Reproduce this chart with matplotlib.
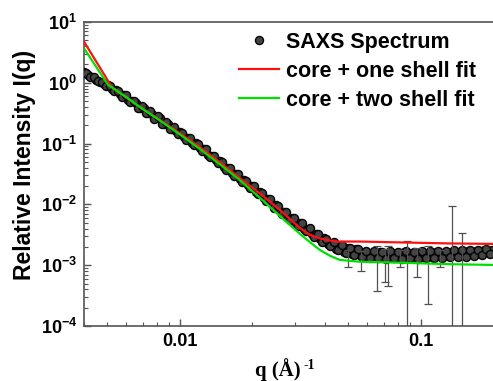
import numpy as np
import matplotlib
matplotlib.use("Agg")
import matplotlib.pyplot as plt
from matplotlib.ticker import FixedLocator, FixedFormatter, LogLocator, NullFormatter

# ---------------- data ----------------
q_saxs_a = [0.004000, 0.004156, 0.004318, 0.004486, 0.004661, 0.004842, 0.005031, 0.005227,
            0.005430, 0.005642, 0.005862, 0.006090, 0.006327, 0.006574, 0.006830, 0.007096,
            0.007372, 0.007659, 0.007958, 0.008268, 0.008590, 0.008924, 0.009272, 0.009633,
            0.010008, 0.010398, 0.010803, 0.011224, 0.011661, 0.012115, 0.012587, 0.013077,
            0.013586, 0.014116, 0.014665, 0.015237, 0.015830, 0.016447, 0.017087, 0.017753,
            0.018444, 0.019163, 0.019909, 0.020685, 0.021490, 0.022327, 0.023197, 0.024101,
            0.025040, 0.026015, 0.027028, 0.028081, 0.029175, 0.030311, 0.031492, 0.032719,
            0.033994, 0.035318, 0.036694, 0.038123, 0.039608, 0.041151, 0.042754, 0.044420,
            0.046150, 0.047948, 0.049816, 0.051756, 0.053773, 0.055867, 0.058044, 0.060305,
            0.062654, 0.065095, 0.067630, 0.070265, 0.073002, 0.075846, 0.078800, 0.081870,
            0.085059, 0.088373, 0.091815, 0.095392, 0.099108, 0.102969, 0.106980, 0.111147,
            0.115477, 0.119975, 0.124649, 0.129505, 0.134550, 0.139791, 0.145237, 0.150894,
            0.156772, 0.162879, 0.169224, 0.175817, 0.182666, 0.189781, 0.197174]
i_saxs_a = [1.505, 1.344, 1.260, 1.118, 1.050, 0.945, 0.903, 0.797,
            0.756, 0.647, 0.630, 0.527, 0.494, 0.466, 0.390, 0.379,
            0.313, 0.305, 0.261, 0.259, 0.212, 0.2077, 0.1706, 0.1636,
            0.1535, 0.1260, 0.1246, 0.1042, 0.1031, 0.0847, 0.0812, 0.0657,
            0.0630, 0.0530, 0.0518, 0.0419, 0.0402, 0.0325, 0.0311, 0.0262,
            0.0256, 0.02077, 0.01992, 0.01618, 0.01581, 0.01270, 0.01227, 0.01004,
            0.00970, 0.00779, 0.00753, 0.00603, 0.00605, 0.00493, 0.00494, 0.00393,
            0.00398, 0.00322, 0.00331, 0.00265, 0.00278, 0.00225, 0.00228, 0.00188,
            0.00207, 0.00166, 0.00190, 0.00153, 0.00183, 0.00147, 0.00166, 0.00134,
            0.00155, 0.00136, 0.00164, 0.00130, 0.00154, 0.00137, 0.00159, 0.00131,
            0.00162, 0.00140, 0.00157, 0.00135, 0.00161, 0.00139, 0.00156, 0.00137,
            0.00163, 0.00143, 0.00161, 0.00142, 0.00166, 0.00146, 0.00165, 0.00146,
            0.00171, 0.00153, 0.00173, 0.00153, 0.00178, 0.00161, 0.00181]

q_saxs_b = [0.004077, 0.004236, 0.004402, 0.004573, 0.004751, 0.004936, 0.005128, 0.005328,
            0.005535, 0.005751, 0.005975, 0.006208, 0.006449, 0.006701, 0.006962, 0.007233,
            0.007515, 0.007807, 0.008112, 0.008428, 0.008756, 0.009097, 0.009451, 0.009819,
            0.010202, 0.010599, 0.011012, 0.011441, 0.011887, 0.012349, 0.012830, 0.013330,
            0.013849, 0.014389, 0.014949, 0.015532, 0.016136, 0.016765, 0.017417, 0.018096,
            0.018801, 0.019534, 0.020294, 0.021085, 0.021906, 0.022759, 0.023646, 0.024567,
            0.025524, 0.026518, 0.027551, 0.028624, 0.029739, 0.030897, 0.032101, 0.033352,
            0.034651, 0.036001, 0.037404, 0.038860, 0.040374, 0.041947, 0.043581, 0.045279,
            0.047043, 0.048875, 0.050779, 0.052757, 0.054813, 0.056947, 0.059167, 0.061471,
            0.063866, 0.066354, 0.068938, 0.071624, 0.074414, 0.077313, 0.080324, 0.083453,
            0.086704, 0.090082, 0.093591, 0.097237, 0.101025, 0.104961, 0.109049, 0.113297,
            0.117710, 0.122295, 0.127060, 0.132010, 0.137152, 0.142495, 0.148045, 0.153812,
            0.159804, 0.166029, 0.172497, 0.179217, 0.186198, 0.193452]
i_saxs_b = [1.461, 1.241, 1.232, 1.054, 1.046, 0.889, 0.879, 0.733,
            0.747, 0.591, 0.622, 0.4826, 0.5078, 0.3873, 0.4146, 0.3162,
            0.3393, 0.2587, 0.2828, 0.2113, 0.2266, 0.1729, 0.1889, 0.1414,
            0.1514, 0.1150, 0.1253, 0.0934, 0.0998, 0.0754, 0.0810, 0.0596,
            0.0629, 0.0471, 0.0507, 0.0373, 0.0393, 0.02948, 0.03168, 0.02331,
            0.02462, 0.01851, 0.01992, 0.01468, 0.01543, 0.01125, 0.01220, 0.00873,
            0.00947, 0.00684, 0.00754, 0.00549, 0.00605, 0.00440, 0.00489, 0.00360,
            0.00402, 0.00294, 0.00325, 0.00240, 0.00272, 0.00204, 0.00238, 0.00176,
            0.00213, 0.00158, 0.00193, 0.00145, 0.00184, 0.00136, 0.00170, 0.00129,
            0.00171, 0.00131, 0.00167, 0.00128, 0.00169, 0.00130, 0.00165, 0.00127,
            0.00169, 0.00130, 0.00166, 0.00128, 0.00171, 0.00132, 0.00169, 0.00132,
            0.00173, 0.00133, 0.00171, 0.00134, 0.00176, 0.00136, 0.00175, 0.00138,
            0.00181, 0.00143, 0.00181, 0.00146, 0.00186, 0.00154]

# error bars (q, I, +/- error)
q_err = [0.0498, 0.0565, 0.0658, 0.0710, 0.0730, 0.0816, 0.0873, 0.0962, 0.1067, 0.1197, 0.1345, 0.1478]
i_err = [0.00135, 0.00125, 0.00124, 0.00120, 0.00125, 0.00135, 0.00120, 0.00130, 0.00116, 0.00135, 0.00130, 0.00140]
e_err = [0.00040, 0.00045, 0.00086, 0.00067, 0.00080, 0.00040, 0.00130, 0.00065, 0.00093, 0.00040, 0.00820, 0.00200]

# core + one shell fit
q_one = [0.0040, 0.00522, 0.0060, 0.00682, 0.00826, 0.0100, 0.0121, 0.0147, 0.0177, 0.0215,
         0.0260, 0.0315, 0.0346, 0.0381, 0.0407, 0.0449, 0.0558, 0.0818, 0.1316, 0.1990]
i_one = [4.75, 0.85, 0.57, 0.40, 0.245, 0.148, 0.0877, 0.0490, 0.0272, 0.0151,
         0.00808, 0.00410, 0.00315, 0.00276, 0.00260, 0.00245, 0.00245, 0.00237, 0.00228, 0.00224]

# core + two shell fit
q_two = [0.0040, 0.00503, 0.00537, 0.0060, 0.00682, 0.00826, 0.0100, 0.0121, 0.0147, 0.0177,
         0.0215, 0.0260, 0.0315, 0.0346, 0.0381, 0.0420, 0.0461, 0.0558, 0.0818, 0.1316, 0.1990]
i_two = [3.70, 0.93, 0.78, 0.58, 0.40, 0.24, 0.141, 0.0816, 0.0452, 0.0252,
         0.0128, 0.00643, 0.00326, 0.00240, 0.00178, 0.00142, 0.00122, 0.00114, 0.00110, 0.00104, 0.00101]

y_ticks = [1e-4, 1e-3, 1e-2, 1e-1, 1e0, 1e1]
y_tick_labels = [r"$\mathbf{10^{-4}}$", r"$\mathbf{10^{-3}}$", r"$\mathbf{10^{-2}}$",
                 r"$\mathbf{10^{-1}}$", r"$\mathbf{10^{0}}$", r"$\mathbf{10^{1}}$"]
x_ticks = [0.01, 0.1]
x_tick_labels = ["0.01", "0.1"]

# ---------------- style ----------------
plt.rcParams["font.family"] = ["Liberation Sans", "DejaVu Sans"]
plt.rcParams["font.weight"] = "bold"
plt.rcParams["mathtext.fontset"] = "custom"
plt.rcParams["mathtext.rm"] = "Liberation Sans:bold"
plt.rcParams["mathtext.bf"] = "Liberation Sans:bold"
plt.rcParams["mathtext.it"] = "Liberation Sans:bold"

W, H = 493, 381
fig = plt.figure(figsize=(W / 100, H / 100), dpi=100)
ax = fig.add_axes([84 / W, 1 - 326 / H, 1 - 84 / W, (326 - 22) / H])
ax.set_xscale("log")
ax.set_yscale("log")
ax.set_xlim(0.004, 0.199)
ax.set_ylim(1e-4, 10)

q_saxs = q_saxs_a + q_saxs_b
i_saxs = i_saxs_a + i_saxs_b
mk = dict(ms=5.8, mfc="#444444", mec="#050505", mew=1.0)
ax.plot(q_saxs, i_saxs, "o", linestyle="none", zorder=3, label="SAXS Spectrum", **mk)
ax.errorbar(q_err, i_err, yerr=e_err, fmt="none", ecolor="#505050", elinewidth=0.9,
            capsize=2.6, capthick=0.9, zorder=4)
ax.plot(q_one, i_one, color="#ff1010", lw=1.6, zorder=5, label="core + one shell fit")
ax.plot(q_two, i_two, color="#00e000", lw=1.6, zorder=5, label="core + two shell fit")

for s in ["left", "bottom", "top"]:
    ax.spines[s].set_color("#555555")
    ax.spines[s].set_linewidth(1.2)
ax.spines["right"].set_visible(False)

ax.xaxis.set_major_locator(FixedLocator(x_ticks))
ax.xaxis.set_major_formatter(FixedFormatter(x_tick_labels))
ax.xaxis.set_minor_locator(LogLocator(base=10, subs=np.arange(2, 10)))
ax.xaxis.set_minor_formatter(NullFormatter())
ax.yaxis.set_major_locator(FixedLocator(y_ticks))
ax.yaxis.set_major_formatter(FixedFormatter(y_tick_labels))
ax.yaxis.set_minor_locator(LogLocator(base=10, subs=np.arange(2, 10)))
ax.yaxis.set_minor_formatter(NullFormatter())

ax.tick_params(which="both", direction="in", top=False, right=False, color="#555555")
ax.tick_params(which="major", length=5, width=1.0, labelsize=13, pad=5)
ax.tick_params(which="minor", length=3, width=0.8)
for lab in ax.get_xticklabels():
    lab.set_fontweight("bold")

fig.text(25 / W, 1 - 165 / H, "Relative Intensity I(q)", rotation=90, ha="center", va="center",
         fontsize=16.5, fontweight="bold")
fig.text(255 / W, 5 / H, "q (Å)", ha="left", va="baseline", fontsize=15,
         fontweight="bold", family=["Liberation Serif", "DejaVu Serif"])
fig.text(303 / W, 12 / H, "-1", ha="left", va="baseline", fontsize=10,
         fontweight="bold", family=["Liberation Serif", "DejaVu Serif"])

leg = ax.legend(loc="upper left", bbox_to_anchor=(239 / W, 1 - 32 / H),
                bbox_transform=fig.transFigure, frameon=False, borderpad=0,
                borderaxespad=0, handlelength=1.86, handletextpad=0.33,
                labelspacing=0.36, prop={"family": "Liberation Sans", "weight": "bold", "size": 15.5},
                numpoints=1)

fig.savefig("out.png", dpi=100)
